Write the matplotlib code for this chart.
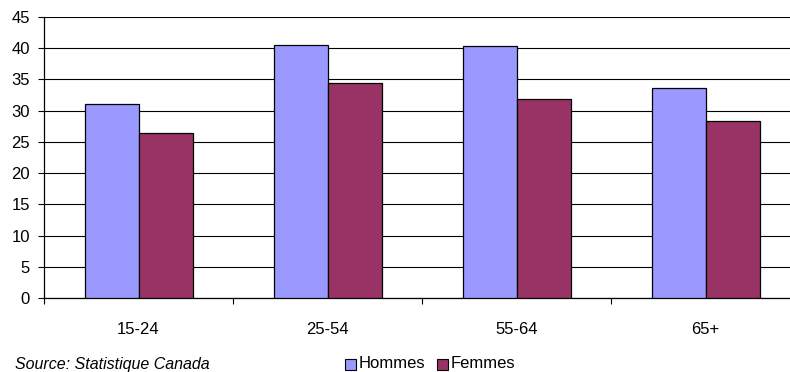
import matplotlib
matplotlib.use("Agg")
import matplotlib.pyplot as plt
import numpy as np
from matplotlib.patches import Rectangle

plt.rcParams['font.family'] = ['Liberation Sans', 'DejaVu Sans']

categories = ["15-24", "25-54", "55-64", "65+"]
hommes = [31.0, 40.5, 40.3, 33.6]
femmes = [26.5, 34.4, 31.9, 28.4]
series_names = ["Hommes", "Femmes"]
colors = ["#9999FF", "#993366"]
yticks = [0, 5, 10, 15, 20, 25, 30, 35, 40, 45]

W, H = 790, 372
fig = plt.figure(figsize=(W / 100, H / 100), dpi=100)
# plot area in pixels: left 44, top 17, bottom 298; right runs past the edge
left, top, bottom, right = 44, 17, 298, 800
ax = fig.add_axes([left / W, 1 - bottom / H, (right - left) / W, (bottom - top) / H])

x = np.arange(len(categories))
bw = 1 / 3.5
ax.bar(x - bw / 2, hommes, bw, color=colors[0], edgecolor="black", linewidth=0.9, zorder=3)
ax.bar(x + bw / 2, femmes, bw, color=colors[1], edgecolor="black", linewidth=0.9, zorder=3)

ax.set_xlim(-0.5, len(categories) - 0.5)
ax.set_ylim(0, 45)
ax.set_yticks(yticks)
ax.yaxis.grid(True, color="black", linewidth=0.8, zorder=0)
ax.set_axisbelow(True)

ax.set_xticks(np.arange(len(categories) + 1) - 0.5, minor=False)
ax.set_xticklabels([])
ax.set_xticks(x, minor=True)
ax.set_xticklabels(categories, minor=True)
ax.tick_params(axis="x", which="major", direction="out", length=4.5, width=0.8, color="black")
ax.tick_params(axis="x", which="minor", length=0, pad=17, labelsize=12)
ax.tick_params(axis="y", direction="out", length=4.5, width=0.8, pad=5.5, labelsize=12)

for s in ["top", "right"]:
    ax.spines[s].set_visible(False)
ax.spines["left"].set_linewidth(0.9)
ax.spines["bottom"].set_linewidth(0.9)

# footer: source and legend
fig.text(15 / W, 1 - 364 / H, "Source: Statistique Canada", style="italic",
         fontsize=11.5, va="center", ha="left")
sq = 11
lx = [345, 437]
for i, name in enumerate(series_names):
    fig.patches.append(Rectangle((lx[i] / W, 1 - (364 + sq / 2) / H), sq / W, sq / H,
                                 facecolor=colors[i], edgecolor="black", linewidth=0.8,
                                 transform=fig.transFigure, figure=fig))
    fig.text((lx[i] + sq + 3) / W, 1 - 364 / H, name, fontsize=12, va="center", ha="left")

fig.savefig("out.png", dpi=100)
